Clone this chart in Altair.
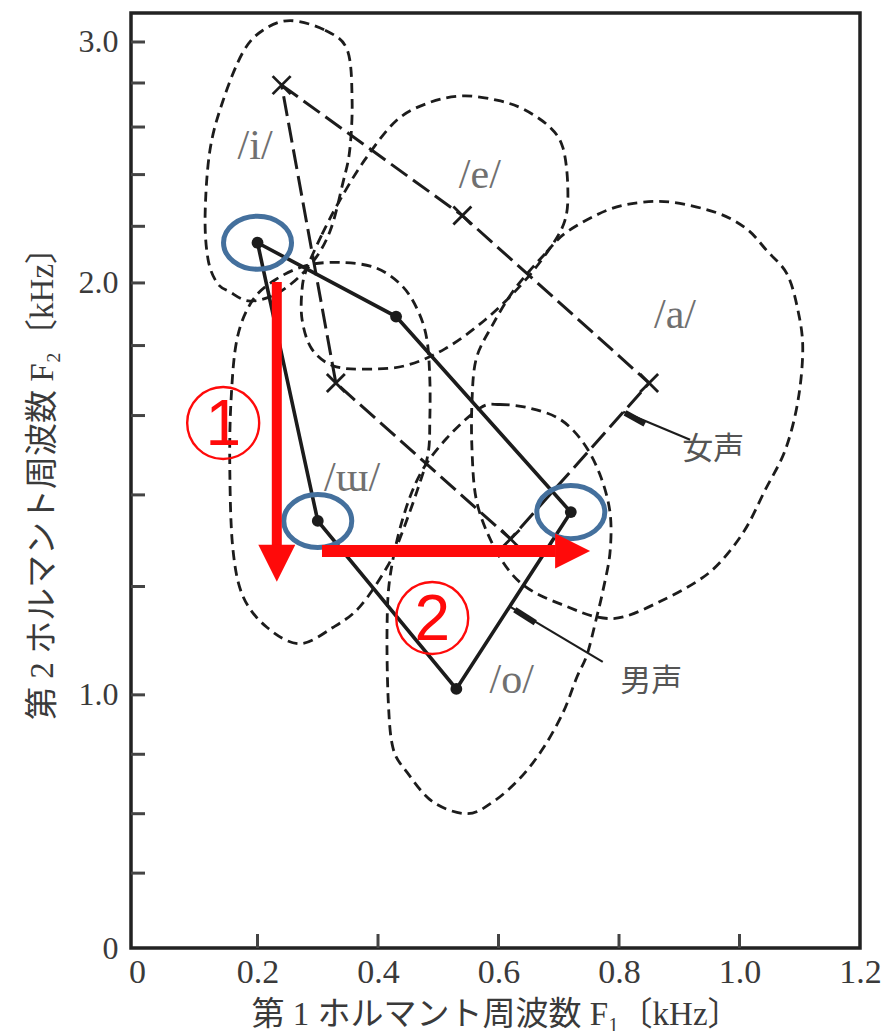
import math
import altair as alt
import pandas as pd

# ---------------- data (kHz) ----------------
VOWELS = ["i", "e", "a", "o", "u"]

# male averages (solid pentagon, dots)
MALE_F1 = [0.20, 0.43, 0.72, 0.53, 0.30]
MALE_F2 = [2.14, 1.89, 1.36, 1.01, 1.34]

# female averages (dashed pentagon, crosses)
FEMALE_F1 = [0.24, 0.54, 0.85, 0.62, 0.33]
FEMALE_F2 = [2.79, 2.24, 1.69, 1.30, 1.69]

# outlines of each vowel's distribution
LOOP_I_F1 = [0.254, 0.312, 0.349, 0.357, 0.353, 0.342, 0.320, 0.287, 0.237, 0.188,
             0.154, 0.133, 0.118, 0.113, 0.121, 0.143, 0.176, 0.209]
LOOP_I_F2 = [3.11, 3.06, 2.96, 2.72, 2.50, 2.37, 2.18, 2.06, 1.97, 1.94,
             1.97, 2.00, 2.08, 2.24, 2.50, 2.72, 2.95, 3.06]

LOOP_E_F1 = [0.282, 0.307, 0.337, 0.378, 0.431, 0.486, 0.541, 0.597, 0.641, 0.685,
             0.707, 0.715, 0.710, 0.682, 0.636, 0.578, 0.511, 0.445, 0.378, 0.325,
             0.290, 0.274, 0.274]
LOOP_E_F2 = [2.05, 2.17, 2.30, 2.46, 2.63, 2.71, 2.74, 2.72, 2.68, 2.60,
             2.51, 2.35, 2.22, 2.11, 1.99, 1.88, 1.79, 1.74, 1.73, 1.74,
             1.79, 1.88, 1.98]

LOOP_U_F1 = [0.342, 0.398, 0.440, 0.466, 0.481, 0.486, 0.486, 0.483, 0.465, 0.436,
             0.415, 0.370, 0.325, 0.270, 0.216, 0.176, 0.159, 0.154, 0.156, 0.166,
             0.191, 0.229, 0.282]
LOOP_U_F2 = [2.07, 2.05, 1.99, 1.91, 1.82, 1.70, 1.59, 1.50, 1.41, 1.30,
             1.24, 1.16, 1.12, 1.09, 1.12, 1.18, 1.28, 1.46, 1.64, 1.82,
             1.94, 2.01, 2.06]

LOOP_A_F1 = [0.714, 0.677, 0.627, 0.589, 0.563, 0.556, 0.556, 0.563, 0.586, 0.619,
             0.657, 0.714, 0.763, 0.807, 0.868, 0.929, 0.968, 1.009, 1.042, 1.076,
             1.097, 1.105, 1.097, 1.079, 1.046, 1.012, 0.963, 0.890, 0.835, 0.780]
LOOP_A_F2 = [2.18, 2.10, 1.98, 1.86, 1.76, 1.64, 1.51, 1.39, 1.30, 1.23,
             1.19, 1.16, 1.14, 1.14, 1.17, 1.21, 1.25, 1.32, 1.41, 1.51,
             1.64, 1.79, 1.91, 2.03, 2.11, 2.19, 2.25, 2.29, 2.29, 2.26]

LOOP_O_F1 = [0.569, 0.602, 0.652, 0.702, 0.740, 0.768, 0.785, 0.785, 0.773, 0.763,
             0.747, 0.730, 0.707, 0.674, 0.636, 0.591, 0.548, 0.491, 0.448, 0.425,
             0.417, 0.415, 0.420, 0.440, 0.470, 0.514]
LOOP_O_F2 = [1.62, 1.63, 1.62, 1.59, 1.53, 1.45, 1.36, 1.27, 1.19, 1.14,
             1.07, 1.03, 0.97, 0.91, 0.86, 0.82, 0.80, 0.82, 0.87, 0.91,
             0.99, 1.12, 1.22, 1.34, 1.45, 1.54]

# vowel labels
VOWEL_LABELS = ["/i/", "/e/", "/a/", "/ɯ/", "/o/"]
VOWEL_LABEL_F1 = [0.196, 0.569, 0.893, 0.357, 0.622]
VOWEL_LABEL_F2 = [2.52, 2.40, 1.895, 1.44, 1.026]

# speaker labels with leader lines
VOICE_LABELS = ["女声", "男声"]
VOICE_LABEL_F1 = [0.905, 0.802]
VOICE_LABEL_F2 = [1.51, 1.022]
FEMALE_LEADER_F1 = [0.807, 0.918]
FEMALE_LEADER_F2 = [1.610, 1.536]
FEMALE_STUB_F1 = [0.810, 0.843]
FEMALE_STUB_F2 = [1.607, 1.578]
MALE_LEADER_F1 = [0.619, 0.773]
MALE_LEADER_F2 = [1.160, 1.057]
MALE_STUB_F1 = [0.627, 0.661]
MALE_STUB_F2 = [1.154, 1.129]

# highlighted male vowels and the two steps between them
HIGHLIGHT = ["i", "u", "a"]
STEP1_F1 = [0.232, 0.232]
STEP1_F2 = [2.003, 1.287]
STEP1_HEAD = (0.232, 1.248)
STEP2_F1 = [0.307, 0.695]
STEP2_F2 = [1.274, 1.274]
STEP2_HEAD = (0.723, 1.274)
STEP_MARKS = ["1", "2"]
STEP_MARK_F1 = [0.143, 0.490]
STEP_MARK_F2 = [1.580, 1.138]

# axes
X_TICKS = [0.2, 0.4, 0.6, 0.8, 1.0]
X_LABELS = [0, 0.2, 0.4, 0.6, 0.8, 1.0, 1.2]
Y_TICKS = [0.7, 0.8, 0.9, 1.0, 1.2, 1.4, 1.6, 1.8, 2.0, 2.2, 2.4, 2.6, 2.8, 3.0]
Y_BOTTOM, Y_TOP = 0.574, 3.15
Y_LABELS = [(Y_BOTTOM, "0"), (1.0, "1.0"), (2.0, "2.0"), (3.0, "3.0")]


# F2 position: linear below 1 kHz, logarithmic above (matching slope at 1 kHz)
F2POS = "datum.f2 >= 1 ? log(datum.f2) : datum.f2 - 1"


def f2pos(f):
    return math.log(f) if f >= 1 else f - 1


W, H = 729, 935
SERIF = "Liberation Serif, DejaVu Serif, Noto Sans CJK JP"
INK = "#1c1c1c"
RED = "#ff0a0a"
BLUE = "#44709d"

xs = alt.Scale(domain=[-0.01, 1.2], nice=False, zero=False)
ys = alt.Scale(domain=[round(f2pos(Y_BOTTOM), 6), round(f2pos(Y_TOP), 6)], nice=False, zero=False)

y_vals = [round(f2pos(v), 6) for v, _ in Y_LABELS]
y_expr = "".join(
    f"abs(datum.value - ({v})) < 0.0001 ? '{s}' : " for v, (_, s) in zip(y_vals, Y_LABELS)
) + "''"

x_axis = alt.Axis(
    values=X_LABELS, ticks=False, domain=False, grid=False, labelFlush=False,
    labelExpr="datum.value == 0 ? '0' : format(datum.value, '.1f')",
    labelFont="Liberation Serif", labelFontSize=34, labelColor="#3a3a3a",
    labelPadding=7,
    title="第 1 ホルマント周波数  F₁〔kHz〕", titleFont=SERIF, titleFontSize=33,
    titleFontWeight="normal", titleColor="#3a3a3a", titleY=66, titleBaseline="middle",
)
y_axis = alt.Axis(
    values=y_vals, ticks=False, domain=False, grid=False, labelFlush=False,
    labelExpr=y_expr,
    labelFont="Liberation Serif", labelFontSize=32, labelColor="#3a3a3a",
    labelPadding=13,
    title="第 2 ホルマント周波数  F₂〔kHz〕", titleFont=SERIF, titleFontSize=33,
    titleFontWeight="normal", titleColor="#3a3a3a",
    titleX=-89, titleY=462, titleAlign="center", titleBaseline="middle",
)

X = alt.X("f1:Q", scale=xs, axis=x_axis)
Y = alt.Y("y:Q", scale=ys, axis=y_axis)


def base(df):
    return alt.Chart(df).transform_calculate(y=F2POS)


def two_point(f1s, f2s):
    return pd.DataFrame({"k": range(len(f1s)), "f1": f1s, "f2": f2s})


# ---- tables ----
loop_rows = []
for name, a, b in [("i", LOOP_I_F1, LOOP_I_F2), ("e", LOOP_E_F1, LOOP_E_F2),
                   ("u", LOOP_U_F1, LOOP_U_F2), ("a", LOOP_A_F1, LOOP_A_F2),
                   ("o", LOOP_O_F1, LOOP_O_F2)]:
    for k, (p, q) in enumerate(zip(a, b)):
        loop_rows.append({"loop": name, "k": k, "f1": p, "f2": q})
loops_df = pd.DataFrame(loop_rows)

male_df = pd.DataFrame({"vowel": VOWELS, "k": range(5), "f1": MALE_F1, "f2": MALE_F2})
female_df = pd.DataFrame({"vowel": VOWELS, "k": range(5), "f1": FEMALE_F1, "f2": FEMALE_F2})
hl_df = male_df[male_df["vowel"].isin(HIGHLIGHT)]

# ---- layers ----
layers = []

# distribution outlines
layers.append(
    base(loops_df).mark_line(interpolate="cardinal-closed", strokeDash=[10, 6],
                             strokeWidth=2.8, color=INK)
    .encode(x=X, y=Y, detail="loop:N", order="k:Q")
)

# inward tick marks
layers.append(
    alt.Chart(pd.DataFrame({"f1": X_TICKS})).mark_rule(color="#444", strokeWidth=3)
    .encode(x=X, y=alt.value(H), y2=alt.value(H - 14))
)
layers.append(
    base(pd.DataFrame({"f2": Y_TICKS})).mark_rule(color="#444", strokeWidth=3)
    .encode(y=Y, x=alt.value(0), x2=alt.value(14))
)

# female pentagon
layers.append(
    base(female_df).mark_line(interpolate="linear-closed", strokeDash=[20, 7],
                              strokeWidth=3, color=INK)
    .encode(x=X, y=Y, order="k:Q")
)
# male pentagon
layers.append(
    base(male_df).mark_line(interpolate="linear-closed", strokeWidth=3.6, color=INK)
    .encode(x=X, y=Y, order="k:Q")
)

# leaders
for f1s, f2s, w in [(FEMALE_LEADER_F1, FEMALE_LEADER_F2, 2.2), (MALE_LEADER_F1, MALE_LEADER_F2, 2.2),
                    (FEMALE_STUB_F1, FEMALE_STUB_F2, 6), (MALE_STUB_F1, MALE_STUB_F2, 6)]:
    layers.append(
        base(two_point(f1s, f2s)).mark_line(strokeWidth=w, color=INK)
        .encode(x=X, y=Y, order="k:Q")
    )

# markers
layers.append(
    base(female_df).mark_point(shape="M -1 -1 L 1 1 M -1 1 L 1 -1", size=324, filled=False,
                               strokeWidth=2.8, color=INK, opacity=1)
    .encode(x=X, y=Y)
)
layers.append(
    base(male_df).mark_point(shape="circle", size=140, filled=True, color=INK, opacity=1)
    .encode(x=X, y=Y)
)

# labels
layers.append(
    base(pd.DataFrame({"label": VOWEL_LABELS, "f1": VOWEL_LABEL_F1, "f2": VOWEL_LABEL_F2}))
    .mark_text(font=SERIF, fontSize=42, color="#707070", align="center", baseline="middle")
    .encode(x=X, y=Y, text="label:N")
)
layers.append(
    base(pd.DataFrame({"label": VOICE_LABELS, "f1": VOICE_LABEL_F1, "f2": VOICE_LABEL_F2}))
    .mark_text(font="Noto Sans CJK JP", fontSize=31, color="#555", align="left", baseline="middle")
    .encode(x=X, y=Y, text="label:N")
)

# highlight rings around the male /i/, /u/, /a/
ring = ("M -1 0 C -1 -0.43 -0.55 -0.78 0 -0.78 C 0.55 -0.78 1 -0.43 1 0 "
        "C 1 0.43 0.55 0.78 0 0.78 C -0.55 0.78 -1 0.43 -1 0 Z")
layers.append(
    base(hl_df).mark_point(shape=ring, size=68 * 68, filled=False, strokeWidth=5,
                           color=BLUE, opacity=1)
    .encode(x=X, y=Y)
)

# step arrows
for f1s, f2s, w in [(STEP1_F1, STEP1_F2, 10), (STEP2_F1, STEP2_F2, 12)]:
    layers.append(
        base(two_point(f1s, f2s)).mark_line(strokeWidth=w, color=RED, strokeCap="butt")
        .encode(x=X, y=Y, order="k:Q")
    )
layers.append(
    base(pd.DataFrame({"f1": [STEP1_HEAD[0]], "f2": [STEP1_HEAD[1]]}))
    .mark_point(shape="M -1 -1 L 1 -1 L 0 1 Z", size=37 * 37, filled=True, color=RED, opacity=1)
    .encode(x=X, y=Y)
)
layers.append(
    base(pd.DataFrame({"f1": [STEP2_HEAD[0]], "f2": [STEP2_HEAD[1]]}))
    .mark_point(shape="M -1 -1 L 1 0 L -1 1 Z", size=35 * 35, filled=True, color=RED, opacity=1)
    .encode(x=X, y=Y)
)
step_df = pd.DataFrame({"label": STEP_MARKS, "f1": STEP_MARK_F1, "f2": STEP_MARK_F2})
layers.append(
    base(step_df).mark_point(shape="circle", size=72 * 72, filled=False, strokeWidth=2.4,
                             color=RED, opacity=1)
    .encode(x=X, y=Y)
)
layers.append(
    base(step_df).mark_text(font="Liberation Sans", fontSize=64, color=RED, align="center",
                            baseline="middle", dy=3)
    .encode(x=X, y=Y, text="label:N")
)

chart = (
    alt.layer(*layers)
    .properties(
        width=W, height=H,
        padding={"left": 131, "top": 13, "right": 27, "bottom": 83},
        autosize=alt.AutoSizeParams(type="none"),
        background="#ffffff",
    )
    .configure_view(stroke="#222", strokeWidth=3.5)
)

chart.save("out.html", embed_options={"renderer": "svg", "actions": False})
